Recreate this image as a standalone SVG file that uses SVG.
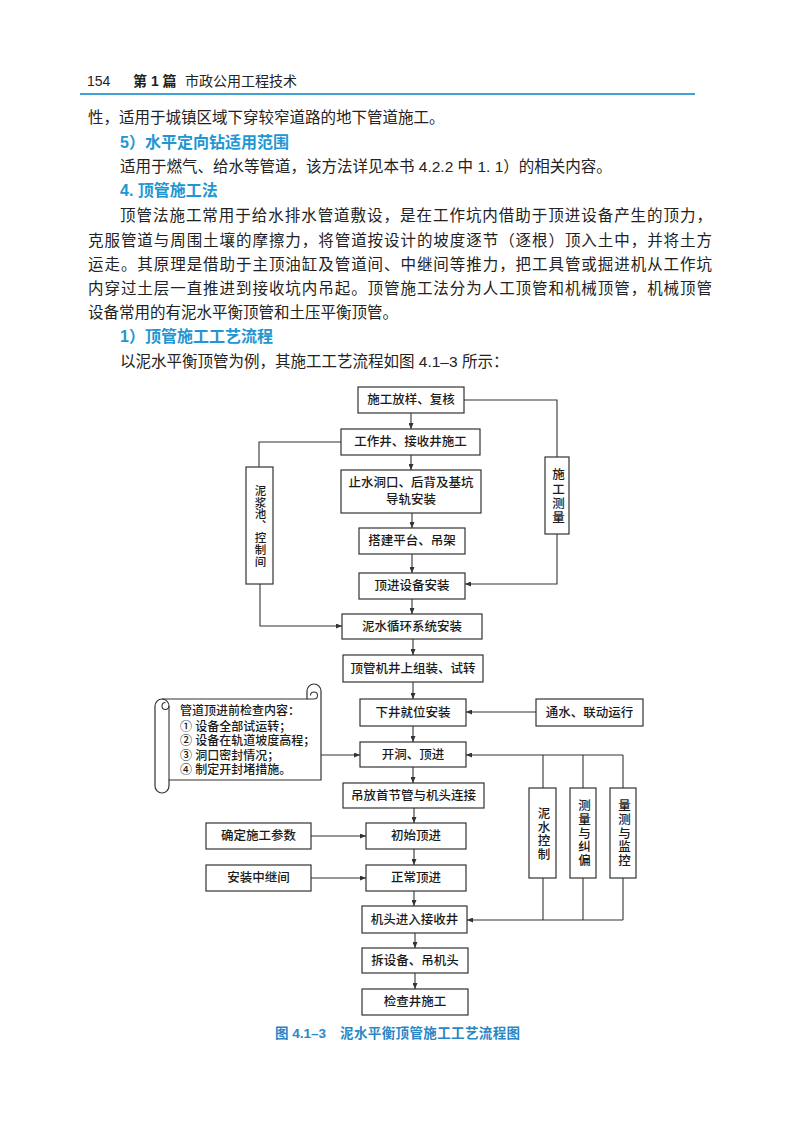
<svg xmlns="http://www.w3.org/2000/svg" width="800" height="1132" viewBox="0 0 800 1132">
<style>
.bg{fill:#ffffff}
.body{font-family:"Liberation Sans","Noto Sans CJK SC",sans-serif;font-size:15.5px;fill:#222}
.head{font-family:"Liberation Sans","Noto Sans CJK SC",sans-serif;font-size:16px;font-weight:700;fill:#2196d3}
.hdr{font-family:"Liberation Sans","Noto Sans CJK SC",sans-serif;font-size:14px;fill:#222}
.box{fill:#fff;stroke:#333;stroke-width:1.2}
.lbl{font-family:"Liberation Sans","Noto Sans CJK SC",sans-serif;font-size:12.5px;font-weight:500;fill:#1a1a1a;text-anchor:middle;dominant-baseline:central}
.vl{font-family:"Liberation Sans","Noto Sans CJK SC",sans-serif;font-size:12.5px;font-weight:500;fill:#1a1a1a;text-anchor:middle;writing-mode:vertical-rl;text-orientation:upright}
.sc{font-family:"Liberation Sans","Noto Sans CJK SC",sans-serif;font-size:12px;font-weight:500;fill:#1a1a1a;dominant-baseline:central}
.ln{fill:none;stroke:#333;stroke-width:1.1}
.cap{font-family:"Liberation Sans","Noto Sans CJK SC",sans-serif;font-size:13.5px;font-weight:700;fill:#2a86c4;dominant-baseline:central}
</style>
<defs>
<marker id="ah" viewBox="0 0 6 5" refX="6" refY="2.5" markerWidth="6" markerHeight="5" orient="auto" markerUnits="userSpaceOnUse">
<path d="M0,0 L6,2.5 L0,5 Z" fill="#333"/>
</marker>
</defs>
<rect class="bg" x="0" y="0" width="800" height="1132"/>

<g id="page-header">
<text class="hdr" x="87" y="86">154</text>
<text class="hdr" x="133" y="86" style="font-weight:700">第 1 篇</text>
<text class="hdr" x="185" y="86">市政公用工程技术</text>
<line x1="80" y1="94" x2="695" y2="94" stroke="#3ea2d6" stroke-width="2.2"/>
</g>

<g id="body-text">
<text class="body" x="88" y="123">性，适用于城镇区域下穿较窄道路的地下管道施工。</text>
<text class="head" x="120" y="148">5）水平定向钻适用范围</text>
<text class="body" x="120" y="172">适用于燃气、给水等管道，该方法详见本书 4.2.2 中 1. 1）的相关内容。</text>
<text class="head" x="120" y="196">4. 顶管施工法</text>
<text class="body" x="120" y="221" textLength="592" lengthAdjust="spacing">顶管法施工常用于给水排水管道敷设，是在工作坑内借助于顶进设备产生的顶力，</text>
<text class="body" x="88" y="246" textLength="624" lengthAdjust="spacing">克服管道与周围土壤的摩擦力，将管道按设计的坡度逐节（逐根）顶入土中，并将土方</text>
<text class="body" x="88" y="270" textLength="624" lengthAdjust="spacing">运走。其原理是借助于主顶油缸及管道间、中继间等推力，把工具管或掘进机从工作坑</text>
<text class="body" x="88" y="294" textLength="624" lengthAdjust="spacing">内穿过土层一直推进到接收坑内吊起。顶管施工法分为人工顶管和机械顶管，机械顶管</text>
<text class="body" x="88" y="318">设备常用的有泥水平衡顶管和土压平衡顶管。</text>
<text class="head" x="120" y="342">1）顶管施工工艺流程</text>
<text class="body" x="120" y="367">以泥水平衡顶管为例，其施工工艺流程如图 4.1–3 所示：</text>
</g>

<g id="connectors">
<line class="ln" x1="411" y1="413" x2="411" y2="429" marker-end="url(#ah)"/>
<line class="ln" x1="411" y1="455" x2="411" y2="470" marker-end="url(#ah)"/>
<line class="ln" x1="412" y1="513" x2="412" y2="528" marker-end="url(#ah)"/>
<line class="ln" x1="412" y1="554" x2="412" y2="573" marker-end="url(#ah)"/>
<line class="ln" x1="412" y1="599" x2="412" y2="614" marker-end="url(#ah)"/>
<line class="ln" x1="413" y1="639" x2="413" y2="655" marker-end="url(#ah)"/>
<line class="ln" x1="413" y1="682" x2="413" y2="699" marker-end="url(#ah)"/>
<line class="ln" x1="413" y1="726" x2="413" y2="742" marker-end="url(#ah)"/>
<line class="ln" x1="413" y1="767" x2="413" y2="783" marker-end="url(#ah)"/>
<line class="ln" x1="414" y1="808" x2="414" y2="823" marker-end="url(#ah)"/>
<line class="ln" x1="414" y1="849" x2="414" y2="865" marker-end="url(#ah)"/>
<line class="ln" x1="414" y1="891" x2="414" y2="906" marker-end="url(#ah)"/>
<line class="ln" x1="415" y1="933" x2="415" y2="948" marker-end="url(#ah)"/>
<line class="ln" x1="415" y1="973" x2="415" y2="989" marker-end="url(#ah)"/>
<polyline class="ln" points="464,400 557,400 557,457"/>
<polyline class="ln" points="557,534 557,584 465,584" marker-end="url(#ah)"/>
<polyline class="ln" points="341,442 259,442 259,467"/>
<polyline class="ln" points="260,584 260,626 342,626" marker-end="url(#ah)"/>
<line class="ln" x1="536" y1="712" x2="466" y2="712" marker-end="url(#ah)"/>
<line class="ln" x1="321" y1="755" x2="360" y2="755" marker-end="url(#ah)"/>
<line class="ln" x1="623" y1="755" x2="466" y2="755" marker-end="url(#ah)"/>
<line class="ln" x1="543" y1="755" x2="543" y2="788"/>
<line class="ln" x1="583" y1="755" x2="583" y2="788"/>
<line class="ln" x1="623" y1="755" x2="623" y2="788"/>
<line class="ln" x1="543" y1="878" x2="543" y2="920"/>
<line class="ln" x1="583" y1="878" x2="583" y2="920"/>
<line class="ln" x1="623" y1="878" x2="623" y2="920"/>
<line class="ln" x1="623" y1="920" x2="467" y2="920" marker-end="url(#ah)"/>
<line class="ln" x1="311" y1="836" x2="366" y2="836" marker-end="url(#ah)"/>
<line class="ln" x1="311" y1="878" x2="366" y2="878" marker-end="url(#ah)"/>
</g>

<g id="n1"><rect class="box" x="358" y="387" width="106" height="26"/><text class="lbl" x="411" y="400">施工放样、复核</text></g>
<g id="n2"><rect class="box" x="341" y="429" width="139" height="26"/><text class="lbl" x="410.5" y="442">工作井、接收井施工</text></g>
<g id="n3"><rect class="box" x="341" y="470" width="140" height="43"/><text class="lbl" x="411" y="483">止水洞口、后背及基坑</text><text class="lbl" x="411" y="500">导轨安装</text></g>
<g id="n4"><rect class="box" x="359" y="528" width="106" height="26"/><text class="lbl" x="412" y="541">搭建平台、吊架</text></g>
<g id="n5"><rect class="box" x="359" y="573" width="106" height="26"/><text class="lbl" x="412" y="586">顶进设备安装</text></g>
<g id="n6"><rect class="box" x="342" y="614" width="140" height="25"/><text class="lbl" x="412" y="626.5">泥水循环系统安装</text></g>
<g id="n7"><rect class="box" x="343" y="655" width="140" height="27"/><text class="lbl" x="413" y="668.5">顶管机井上组装、试转</text></g>
<g id="n8"><rect class="box" x="360" y="699" width="106" height="27"/><text class="lbl" x="413" y="712.5">下井就位安装</text></g>
<g id="n9"><rect class="box" x="360" y="742" width="106" height="25"/><text class="lbl" x="413" y="754.5">开洞、顶进</text></g>
<g id="n10"><rect class="box" x="343" y="783" width="141" height="25"/><text class="lbl" x="413.5" y="795.5">吊放首节管与机头连接</text></g>
<g id="n11"><rect class="box" x="366" y="823" width="100" height="26"/><text class="lbl" x="416" y="836">初始顶进</text></g>
<g id="n12"><rect class="box" x="366" y="865" width="100" height="26"/><text class="lbl" x="416" y="878">正常顶进</text></g>
<g id="n13"><rect class="box" x="362" y="906" width="105" height="27"/><text class="lbl" x="414.5" y="919.5">机头进入接收井</text></g>
<g id="n14"><rect class="box" x="362" y="948" width="106" height="25"/><text class="lbl" x="415" y="960.5">拆设备、吊机头</text></g>
<g id="n15"><rect class="box" x="362" y="989" width="106" height="26"/><text class="lbl" x="415" y="1002">检查井施工</text></g>

<g id="s1"><rect class="box" x="246" y="467" width="27" height="117"/>
<text class="vl" x="259.5" y="526" style="font-size:11.5px;letter-spacing:0.3px">泥浆池、控制间</text></g>
<g id="s2"><rect class="box" x="545" y="457" width="24" height="77"/>
<text class="vl" x="557" y="497" style="letter-spacing:1.8px">施工测量</text></g>
<g id="s3"><rect class="box" x="536" y="699" width="107" height="27"/><text class="lbl" x="589.5" y="712.5">通水、联动运行</text></g>
<g id="s4">
<path class="box" d="M169,780 L321,780 L321,691 A7,7 0 0 0 307,691 L307,699 L162,699 A7,7 0 0 0 155,706 L155,786 A7,7 0 0 0 169,786 Z"/>
<path class="ln" d="M307,699 L314,699 A3.5,3.5 0 0 0 314,692 A3.5,3.5 0 0 0 310.5,695.5"/>
<path class="ln" d="M162,699 A7,7 0 0 1 169,706 L169,780"/>
<path class="ln" d="M169,706 A3.5,3.5 0 0 1 162,706 A3.5,3.5 0 0 1 165.5,702.5"/>
<text class="sc" x="180" y="711">管道顶进前检查内容：</text>
<text class="sc" x="180" y="726.5">① 设备全部试运转；</text>
<text class="sc" x="180" y="741">② 设备在轨道坡度高程；</text>
<text class="sc" x="180" y="755.5">③ 洞口密封情况；</text>
<text class="sc" x="180" y="770">④ 制定开封堵措施。</text>
</g>
<g id="s5"><rect class="box" x="206" y="823" width="105" height="26"/><text class="lbl" x="258.5" y="836">确定施工参数</text></g>
<g id="s6"><rect class="box" x="206" y="865" width="105" height="26"/><text class="lbl" x="258.5" y="878">安装中继间</text></g>
<g id="s7"><rect class="box" x="529" y="788" width="27" height="90"/>
<text class="vl" x="542.5" y="834.5" style="letter-spacing:1.3px">泥水控制</text></g>
<g id="s8"><rect class="box" x="570" y="788" width="26" height="90"/>
<text class="vl" x="583" y="833.5" style="letter-spacing:1.4px">测量与纠偏</text></g>
<g id="s9"><rect class="box" x="610" y="788" width="26" height="90"/>
<text class="vl" x="623" y="833.5" style="letter-spacing:1.4px">量测与监控</text></g>

<g id="caption">
<text class="cap" x="275" y="1033">图 4.1–3</text>
<text class="cap" x="340" y="1033" textLength="180" lengthAdjust="spacing">泥水平衡顶管施工工艺流程图</text>
</g>
</svg>
